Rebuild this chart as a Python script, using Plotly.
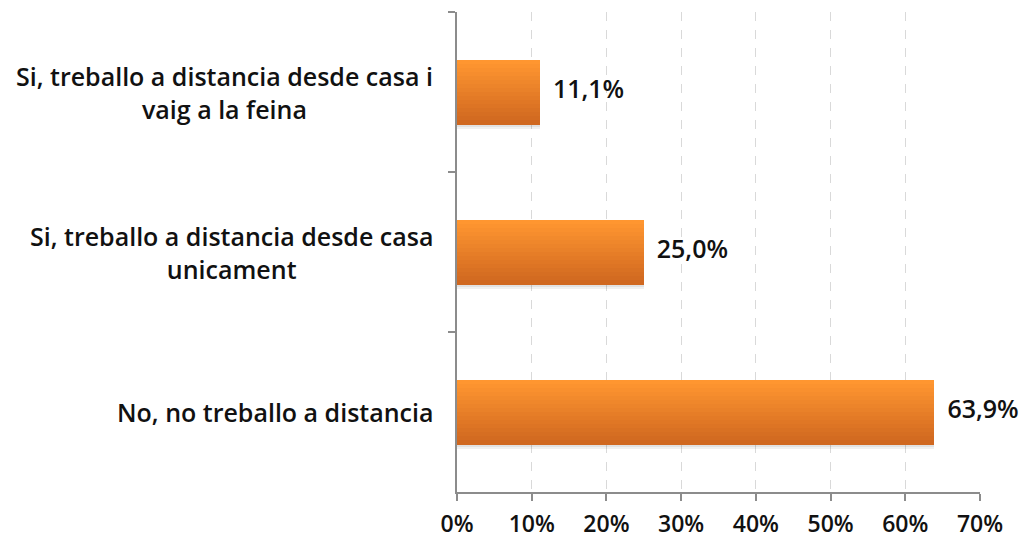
import plotly.graph_objects as go

categories = [
    "Si, treballo a distancia desde casa i<br>vaig a la feina",
    "Si, treballo a distancia desde casa<br>unicament",
    "No, no treballo a distancia",
]
values = [11.1, 25.0, 63.9]
tick_vals = [0, 10, 20, 30, 40, 50, 60, 70]
tick_text = ["0%", "10%", "20%", "30%", "40%", "50%", "60%", "70%"]

FONT = "Open Sans"
TEXT_COLOR = "#111111"
BAR_W = 0.4
N_STRIPES = 16
TOP_RGB = (255, 150, 48)
BOT_RGB = (208, 104, 32)

fig = go.Figure()

# soft drop shadow behind each bar
for alpha, dy in [(0.06, 0.03), (0.06, 0.018), (0.05, 0.008)]:
    fig.add_trace(go.Bar(
        y=categories, x=values, orientation="h",
        width=BAR_W, offset=-BAR_W / 2 + dy,
        marker=dict(color=f"rgba(0,0,0,{alpha})", line=dict(width=0)),
        hoverinfo="skip", showlegend=False,
    ))

# vertical gradient built from thin horizontal stripes (top light, bottom dark)
step = BAR_W / N_STRIPES
for k in range(N_STRIPES):
    t = k / (N_STRIPES - 1)
    r, g, b = (round(TOP_RGB[j] + (BOT_RGB[j] - TOP_RGB[j]) * t) for j in range(3))
    fig.add_trace(go.Bar(
        y=categories, x=values, orientation="h",
        width=step * 1.15, offset=-BAR_W / 2 + k * step,
        marker=dict(color=f"rgb({r},{g},{b})", line=dict(width=0)),
        hoverinfo="skip", showlegend=False,
    ))

# value labels
fig.add_trace(go.Scatter(
    y=categories, x=values, mode="text",
    text=[f"{v:.1f}%".replace(".", ",") for v in values],
    textposition="middle right",
    texttemplate="  %{text}",
    textfont=dict(family=FONT, size=25, color=TEXT_COLOR, weight=600),
    cliponaxis=False,
    hoverinfo="skip", showlegend=False,
))

# category labels, centred multi-line text left of the axis
for c in categories:
    fig.add_annotation(
        x=0, xref="paper", y=c, yref="y",
        text=c, showarrow=False, xanchor="right", xshift=-22,
        align="center", font=dict(family=FONT, size=25, color=TEXT_COLOR, weight=600),
    )

fig.update_layout(
    width=1021, height=540,
    margin=dict(l=457, r=41, t=12, b=48),
    barmode="overlay", bargap=0,
    plot_bgcolor="white", paper_bgcolor="white",
    showlegend=False,
)
fig.update_xaxes(
    range=[0, 70], tickvals=tick_vals, ticktext=tick_text,
    showgrid=True, gridcolor="#D9D9D9", griddash="dash", gridwidth=1,
    showline=True, linecolor="#8C8C8C", linewidth=2,
    ticks="outside", ticklen=7, tickcolor="#8C8C8C", tickwidth=1.5,
    ticklabelstandoff=3, automargin=False,
    tickfont=dict(family=FONT, size=23, color=TEXT_COLOR, weight=600),
    zeroline=False,
)
fig.update_yaxes(
    type="category", autorange="reversed",
    categoryorder="array", categoryarray=categories,
    showticklabels=False, tickson="boundaries", automargin=False,
    showgrid=False, showline=True, linecolor="#8C8C8C", linewidth=2,
    ticks="outside", ticklen=7, tickcolor="#8C8C8C", tickwidth=1.5,
)

fig.write_html("out.html")
